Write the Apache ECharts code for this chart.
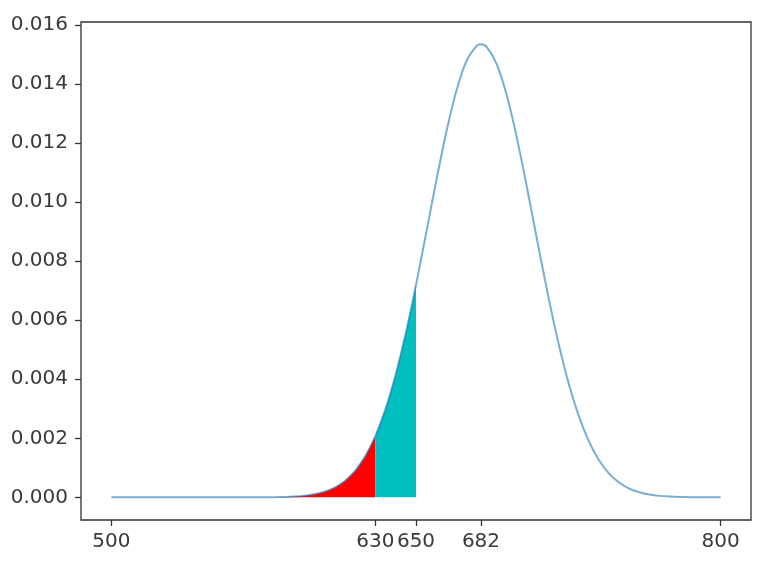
<!DOCTYPE html>
<html>
<head>
<meta charset="utf-8">
<script src="https://cdn.jsdelivr.net/npm/echarts@6/dist/echarts.min.js"></script>
<style>
html,body{margin:0;padding:0;background:#fff;}
#chart{width:777px;height:566px;}
</style>
</head>
<body>
<div id="chart"></div>
<script>
// x values and density values
const xValues = [500, 520, 540, 560, 570, 580, 585, 590, 595, 600, 605, 610, 615, 620, 625, 630, 635, 640, 645, 650, 655, 660, 665, 670, 675, 680, 682, 685, 690, 695, 700, 705, 710, 715, 720, 725, 730, 735, 740, 745, 750, 755, 760, 765, 770, 775, 780, 785, 790, 795, 800];
const yValues = [0, 0, 0, 0.0000001, 0.0000014, 0.000007, 0.000015, 0.000029, 0.000057, 0.000106, 0.000191, 0.000332, 0.000555, 0.000894, 0.001388, 0.002077, 0.002995, 0.004163, 0.005574, 0.007195, 0.008949, 0.010727, 0.012392, 0.013794, 0.014798, 0.015299, 0.015344, 0.015242, 0.014635, 0.013541, 0.012074, 0.010376, 0.008593, 0.006857, 0.005274, 0.003908, 0.002791, 0.001921, 0.001275, 0.000814, 0.000502, 0.000298, 0.000171, 0.000094, 0.000050, 0.000026, 0.000013, 0.000006, 0.000003, 0.000001, 0.0000005];
const redEnd = 630;
const cyanEnd = 650;
const xTicks = [500, 630, 650, 682, 800];
const yTicks = [0, 0.002, 0.004, 0.006, 0.008, 0.010, 0.012, 0.014, 0.016];

const all = xValues.map((x, i) => [x, yValues[i]]);
const red = all.filter(p => p[0] <= redEnd);
const cyan = all.filter(p => p[0] >= redEnd && p[0] <= cyanEnd);

const font = '"DejaVu Sans", sans-serif';
const chart = echarts.init(document.getElementById('chart'), null, {renderer: 'canvas'});
chart.setOption({
  animation: false,
  backgroundColor: '#fff',
  grid: {left: 81, right: 26, top: 22, bottom: 46, show: true, borderColor: '#333', borderWidth: 1.3, backgroundColor: 'transparent'},
  xAxis: {
    type: 'value', min: 485, max: 815,
    splitLine: {show: false},
    axisLine: {show: false, onZero: false},
    axisTick: {show: true, inside: false, customValues: xTicks, length: 6, lineStyle: {color: '#333', width: 1.3}},
    axisLabel: {customValues: xTicks, color: '#3a3a3a', fontSize: 20, fontFamily: font, margin: 12, showMinLabel: true, showMaxLabel: true}
  },
  yAxis: {
    type: 'value', min: -0.000767, max: 0.0161,
    splitLine: {show: false},
    axisLine: {show: false, onZero: false},
    axisTick: {show: true, inside: false, customValues: yTicks, length: 6, lineStyle: {color: '#333', width: 1.3}},
    axisLabel: {customValues: yTicks, color: '#3a3a3a', fontSize: 20, fontFamily: font, margin: 13, formatter: v => v.toFixed(3)}
  },
  series: [
    {type: 'line', data: red, showSymbol: false, lineStyle: {width: 0}, itemStyle: {color: '#ff0000'}, areaStyle: {color: '#ff0000', opacity: 1}, z: 2},
    {type: 'line', data: cyan, showSymbol: false, lineStyle: {width: 0}, itemStyle: {color: '#00bfbf'}, areaStyle: {color: '#00bfbf', opacity: 1}, z: 2},
    {type: 'line', data: all, showSymbol: false, smooth: 0.3, lineStyle: {width: 2, color: 'rgba(31,119,180,0.6)'}, itemStyle: {color: 'rgba(31,119,180,0.6)'}, z: 3}
  ]
});
</script>
</body>
</html>
